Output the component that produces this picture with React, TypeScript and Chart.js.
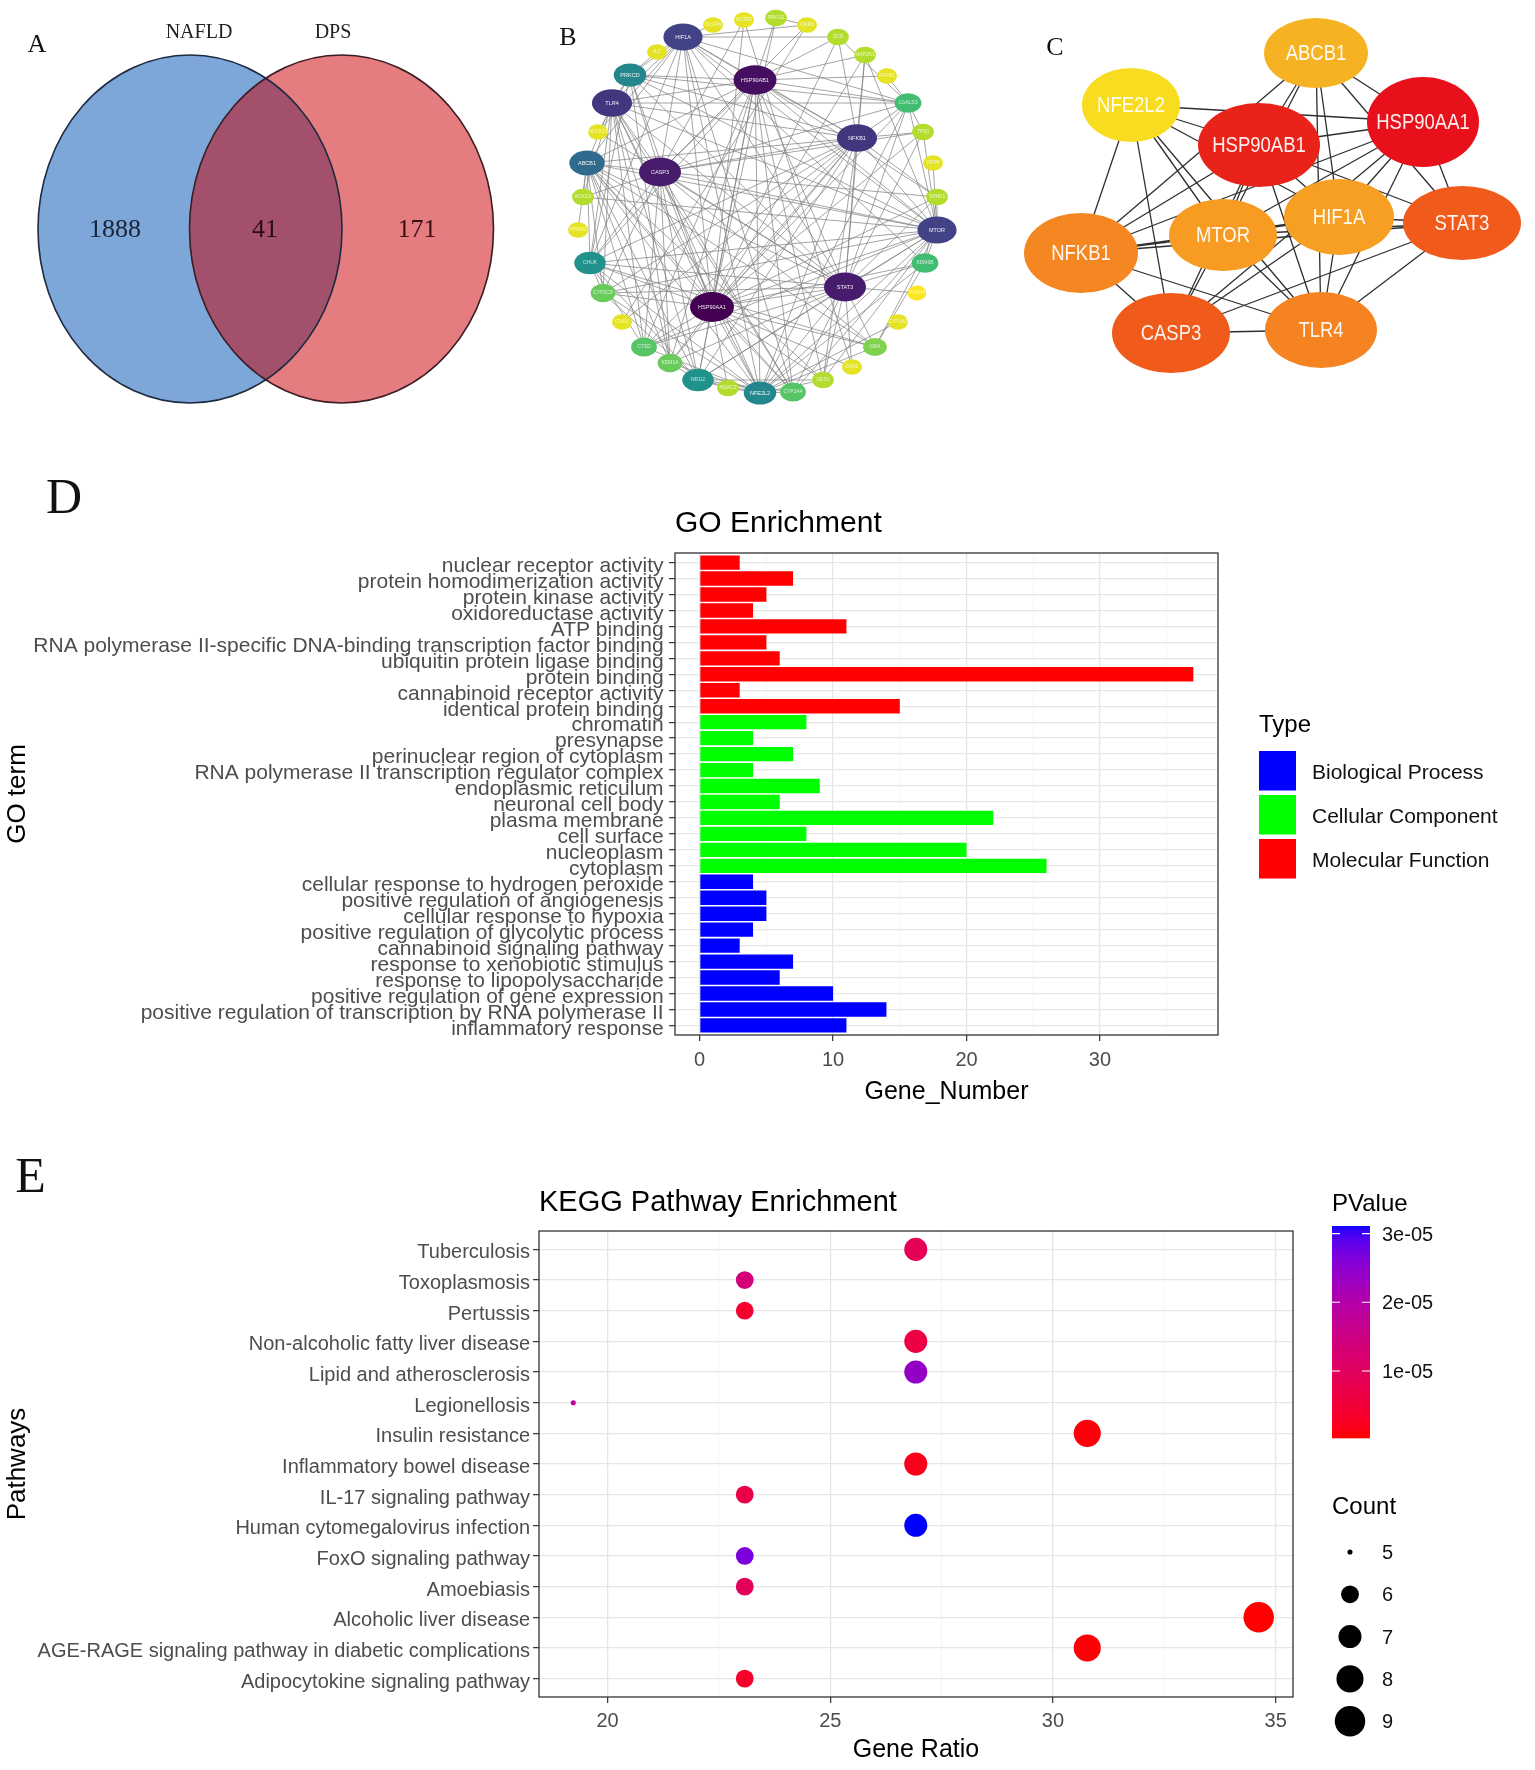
import React, { useEffect, useRef } from 'react';
import { Chart, registerables } from 'chart.js';

Chart.register(...registerables);

const SANS = "'Liberation Sans', Arial, Helvetica, sans-serif";
const SERIF = "'Liberation Serif', 'Times New Roman', Times, serif";
Chart.defaults.font.family = SANS;

/* ============================ DATA ============================ */
// A – Venn diagram
const vennSets = ['NAFLD', 'DPS'];
const vennCounts = [1888, 41, 171]; // NAFLD only, shared, DPS only

// B – PPI network (41 shared targets)
const ppiNodes = [
  'HIF1A', 'CLSPN', 'AGTR1', 'PRKCE', 'CNR1', 'SCD', 'MAP2K1', 'FFAR1', 'LGALS3', 'TP53',
  'DPP4', 'SPHK1', 'MTOR', 'KDM6B', 'NR1H4', 'CYP1A2', 'GBA', 'CAV1', 'CES1', 'CYP3A4',
  'NFE2L2', 'HDAC2', 'NR1I2', 'KDM1A', 'CTSD', 'CNR2', 'CYP2C9', 'CHUK', 'PPARG', 'ACACA',
  'ABCB1', 'ALOX15', 'TLR4', 'PRKCD', 'IL2', 'HSP90AB1', 'NFKB1', 'CASP3', 'STAT3', 'HSP90AA1',
];
const ppiDegree = [
  23, 3, 3, 5, 3, 5, 5, 3, 10, 5,
  3, 5, 23, 10, 2, 3, 7, 3, 5, 9,
  16, 5, 15, 8, 9, 3, 8, 15, 3, 5,
  19, 3, 24, 16, 3, 27, 24, 26, 26, 28,
];
const ppiAdjacency = [
  'HSP90AA1: HIF1A TLR4 PRKCD ABCB1 CHUK CYP2C9 CTSD KDM1A NR1I2 HDAC2 NFE2L2 CYP3A4 CES1 GBA STAT3 MTOR NFKB1 HSP90AB1 CASP3 LGALS3 SPHK1 MAP2K1 PRKCE KDM6B TP53 SCD AGTR1 CAV1',
  'HSP90AB1: HIF1A TLR4 PRKCD ABCB1 CASP3 NFKB1 MTOR STAT3 NFE2L2 CYP3A4 CES1 CTSD LGALS3 MAP2K1 FFAR1 SPHK1 CHUK KDM1A NR1I2 SCD PRKCE',
  'CASP3: HIF1A TLR4 PRKCD ABCB1 ACACA CHUK NFKB1 STAT3 MTOR NFE2L2 NR1I2 KDM1A CTSD CYP2C9 LGALS3 TP53 SPHK1 GBA CYP3A4 AGTR1 CNR1',
  'STAT3: HIF1A TLR4 PRKCD ABCB1 CHUK NFKB1 MTOR NFE2L2 CYP3A4 CES1 GBA KDM6B LGALS3 TP53 SPHK1 MAP2K1 KDM1A CTSD CYP2C9 NR1I2 CAV1 ALOX15 NR1H4',
  'NFKB1: HIF1A TLR4 PRKCD ABCB1 CHUK MTOR NFE2L2 CTSD LGALS3 TP53 MAP2K1 SCD CYP2C9 KDM1A CES1 NR1I2 SPHK1 CNR2',
  'TLR4: HIF1A PRKCD ABCB1 CHUK MTOR NFE2L2 CYP2C9 NR1I2 LGALS3 CTSD KDM1A ACACA CYP3A4',
  'HIF1A: PRKCD ABCB1 MTOR CHUK NFE2L2 CYP3A4 SCD CNR1 LGALS3 KDM6B ALOX15 CLSPN IL2',
  'MTOR: PRKCD ABCB1 CHUK LGALS3 SPHK1 KDM6B GBA CES1 CYP3A4 NFE2L2 NR1I2 CTSD CYP2C9 TP53 ACACA MAP2K1 DPP4',
  'ABCB1: ACACA CHUK CYP2C9 CTSD KDM1A NR1I2 NFE2L2 CYP3A4 PPARG CES1 GBA',
  'PRKCD: CHUK ALOX15 KDM1A LGALS3 IL2',
  'CHUK: CYP2C9 CTSD NR1I2 NFE2L2 GBA',
  'NFE2L2: CYP3A4 CES1 GBA KDM1A CTSD CYP2C9 NR1I2 LGALS3 KDM6B HDAC2 CYP1A2',
  'NR1I2: CYP3A4 CES1 CYP2C9 KDM1A HDAC2',
  'LGALS3: TP53 FFAR1 SCD',
  'KDM6B: SPHK1 GBA',
  'CNR1: CNR2 PRKCE',
  'AGTR1: CAV1',
];

// C – top 10 hub genes
const hubGenes = ['ABCB1', 'NFE2L2', 'HSP90AB1', 'HSP90AA1', 'NFKB1', 'MTOR', 'HIF1A', 'STAT3', 'CASP3', 'TLR4'];
const hubScore = [0.38, 0.1, 0.95, 1.0, 0.6, 0.5, 0.48, 0.8, 0.8, 0.62];
const hubLinks = [
  'ABCB1-HSP90AB1', 'ABCB1-HSP90AA1', 'ABCB1-MTOR', 'ABCB1-HIF1A', 'ABCB1-TLR4', 'ABCB1-NFKB1', 'ABCB1-STAT3',
  'NFE2L2-HSP90AB1', 'NFE2L2-HSP90AA1', 'NFE2L2-NFKB1', 'NFE2L2-MTOR', 'NFE2L2-HIF1A', 'NFE2L2-CASP3', 'NFE2L2-TLR4',
  'HSP90AB1-HSP90AA1', 'HSP90AB1-NFKB1', 'HSP90AB1-MTOR', 'HSP90AB1-HIF1A', 'HSP90AB1-STAT3', 'HSP90AB1-CASP3', 'HSP90AB1-TLR4',
  'HSP90AA1-NFKB1', 'HSP90AA1-MTOR', 'HSP90AA1-HIF1A', 'HSP90AA1-STAT3', 'HSP90AA1-CASP3', 'HSP90AA1-TLR4',
  'NFKB1-MTOR', 'NFKB1-HIF1A', 'NFKB1-STAT3', 'NFKB1-CASP3', 'NFKB1-TLR4',
  'MTOR-HIF1A', 'MTOR-STAT3', 'MTOR-CASP3', 'MTOR-TLR4',
  'HIF1A-STAT3', 'HIF1A-CASP3', 'HIF1A-TLR4',
  'STAT3-CASP3', 'STAT3-TLR4', 'CASP3-TLR4',
];

// D – GO enrichment
const goTerms = [
  'nuclear receptor activity',
  'protein homodimerization activity',
  'protein kinase activity',
  'oxidoreductase activity',
  'ATP binding',
  'RNA polymerase II-specific DNA-binding transcription factor binding',
  'ubiquitin protein ligase binding',
  'protein binding',
  'cannabinoid receptor activity',
  'identical protein binding',
  'chromatin',
  'presynapse',
  'perinuclear region of cytoplasm',
  'RNA polymerase II transcription regulator complex',
  'endoplasmic reticulum',
  'neuronal cell body',
  'plasma membrane',
  'cell surface',
  'nucleoplasm',
  'cytoplasm',
  'cellular response to hydrogen peroxide',
  'positive regulation of angiogenesis',
  'cellular response to hypoxia',
  'positive regulation of glycolytic process',
  'cannabinoid signaling pathway',
  'response to xenobiotic stimulus',
  'response to lipopolysaccharide',
  'positive regulation of gene expression',
  'positive regulation of transcription by RNA polymerase II',
  'inflammatory response',
];
const goCounts = [3, 7, 5, 4, 11, 5, 6, 37, 3, 15, 8, 4, 7, 4, 9, 6, 22, 8, 20, 26, 4, 5, 5, 4, 3, 7, 6, 10, 14, 11];
const MF = 'Molecular Function';
const CC = 'Cellular Component';
const BP = 'Biological Process';
const goTypes = [
  MF, MF, MF, MF, MF, MF, MF, MF, MF, MF,
  CC, CC, CC, CC, CC, CC, CC, CC, CC, CC,
  BP, BP, BP, BP, BP, BP, BP, BP, BP, BP,
];
const goTypeOrder = [BP, CC, MF];
const goAxisTicks = [0, 10, 20, 30];

// E – KEGG enrichment
const keggPathways = [
  'Tuberculosis',
  'Toxoplasmosis',
  'Pertussis',
  'Non-alcoholic fatty liver disease',
  'Lipid and atherosclerosis',
  'Legionellosis',
  'Insulin resistance',
  'Inflammatory bowel disease',
  'IL-17 signaling pathway',
  'Human cytomegalovirus infection',
  'FoxO signaling pathway',
  'Amoebiasis',
  'Alcoholic liver disease',
  'AGE-RAGE signaling pathway in diabetic complications',
  'Adipocytokine signaling pathway',
];
const keggGeneRatio = [26.92, 23.08, 23.08, 26.92, 26.92, 19.23, 30.77, 26.92, 23.08, 26.92, 23.08, 23.08, 34.62, 30.77, 23.08];
const keggCount = [7, 6, 6, 7, 7, 5, 8, 7, 6, 7, 6, 6, 9, 8, 6];
const keggPValue = [8.9e-6, 1.35e-5, 4.0e-6, 6.5e-6, 2.4e-5, 1.75e-5, 9e-7, 1.9e-6, 7e-6, 3.11e-5, 2.65e-5, 9.6e-6, 3.2e-7, 6e-7, 3.4e-6];
const keggRatioTicks = [20, 25, 30, 35];
const pValueTicks = [1e-5, 2e-5, 3e-5];
const countLegend = [5, 6, 7, 8, 9];

/* ====================== LAYOUT / STYLE ====================== */
const VENN = {
  cx: [190, 341.5], cy: 229, rx: 152, ry: 174,
  fill: ['#7DA7D9', '#E57C7F', '#A2506B'],
  stroke: ['#1D2A40', '#3B1D24'],
  textX: [115, 265, 417], textY: 230,
  textColor: ['#1B2436', '#2B0A12', '#3A0E12'],
  titleX: [199, 333], titleY: 33,
};
const ppiLayoutX = [
  163, 193, 224, 256, 287, 318, 345, 367, 388, 403,
  413, 417, 417, 405, 397, 378, 355, 332, 303, 273,
  240, 208, 178, 150, 124, 102, 83, 70, 58, 63,
  67, 78, 92, 110, 137, 235, 337, 140, 325, 192,
];
const ppiLayoutY = [
  37, 25, 20, 18, 25, 37, 55, 76, 103, 132,
  163, 197, 230, 263, 293, 322, 347, 367, 380, 392,
  393, 388, 380, 363, 347, 322, 293, 263, 230, 197,
  163, 132, 103, 75, 52, 80, 138, 172, 287, 307,
];
const hubLayoutX = [316, 131, 259, 423, 81, 223, 339, 462, 171, 321];
const hubLayoutY = [53, 105, 145, 122, 253, 235, 217, 223, 333, 330];
const hubRx = [52, 49, 61, 56, 57, 54, 55, 59, 59, 56];
const hubRy = [35, 37, 42, 45, 40, 36, 38, 37, 40, 38];

const GO_COLORS: Record<string, string> = { [BP]: '#0000FF', [CC]: '#00FF00', [MF]: '#FF0000' };
const GRID_MAJOR = '#E6E6E6';
const GRID_MINOR = '#F0F0F0';
const AXIS_TEXT = '#4D4D4D';

/* ========================= HELPERS ========================= */
function hexToRgb(h: string): number[] {
  const n = parseInt(h.slice(1), 16);
  return [(n >> 16) & 255, (n >> 8) & 255, n & 255];
}
function ramp(stops: [number, string][], t: number): string {
  const tt = Math.max(0, Math.min(1, t));
  let k = 0;
  while (k < stops.length - 2 && tt > stops[k + 1][0]) k++;
  const [p0, c0] = stops[k];
  const [p1, c1] = stops[k + 1];
  const f = p1 === p0 ? 0 : (tt - p0) / (p1 - p0);
  const a = hexToRgb(c0), b = hexToRgb(c1);
  const c = a.map((v, i) => Math.round(v + (b[i] - v) * f));
  return `rgb(${c[0]},${c[1]},${c[2]})`;
}
const VIRIDIS: [number, string][] = [
  '#440154', '#482475', '#414487', '#355F8D', '#2A788E', '#21918C', '#22A884', '#44BF70', '#7AD151', '#BDDF26', '#FDE725',
].map((c, i) => [i / 10, c] as [number, string]);
const HUB_RAMP: [number, string][] = [
  [0, '#E8101A'], [0.2, '#F05A1B'], [0.4, '#F58723'], [0.5, '#F79B22'], [0.62, '#F5B223'], [0.9, '#F8DC20'], [1, '#F9E31E'],
];

function lin(c: number) { c /= 255; return c <= 0.04045 ? c / 12.92 : Math.pow((c + 0.055) / 1.055, 2.4); }
function gam(c: number) {
  const v = c <= 0.0031308 ? 12.92 * c : 1.055 * Math.pow(Math.max(c, 0), 1 / 2.4) - 0.055;
  return Math.round(Math.max(0, Math.min(1, v)) * 255);
}
function rgb2lab(rgb: number[]) {
  const R = lin(rgb[0]), G = lin(rgb[1]), B = lin(rgb[2]);
  const X = (0.4124 * R + 0.3576 * G + 0.1805 * B) / 0.95047;
  const Y = 0.2126 * R + 0.7152 * G + 0.0722 * B;
  const Z = (0.0193 * R + 0.1192 * G + 0.9505 * B) / 1.08883;
  const f = (t: number) => (t > 0.008856 ? Math.cbrt(t) : 7.787 * t + 16 / 116);
  const fx = f(X), fy = f(Y), fz = f(Z);
  return [116 * fy - 16, 500 * (fx - fy), 200 * (fy - fz)];
}
function lab2rgb(lab: number[]) {
  const fy = (lab[0] + 16) / 116, fx = fy + lab[1] / 500, fz = fy - lab[2] / 200;
  const fi = (t: number) => (t * t * t > 0.008856 ? t * t * t : (t - 16 / 116) / 7.787);
  const X = fi(fx) * 0.95047, Y = fi(fy), Z = fi(fz) * 1.08883;
  const R = 3.2406 * X - 1.5372 * Y - 0.4986 * Z;
  const G = -0.9689 * X + 1.8758 * Y + 0.0415 * Z;
  const B = 0.0557 * X - 0.204 * Y + 1.057 * Z;
  return `rgb(${gam(R)},${gam(G)},${gam(B)})`;
}
const LAB_LOW = rgb2lab([255, 0, 0]);
const LAB_HIGH = rgb2lab([0, 0, 255]);
function gradRedBlue(t: number) {
  const tt = Math.max(0, Math.min(1, t));
  return lab2rgb(LAB_LOW.map((v, i) => v + (LAB_HIGH[i] - v) * tt));
}
const P_MIN = Math.min(...keggPValue);
const P_MAX = Math.max(...keggPValue);
function pColor(p: number) { return gradRedBlue((p - P_MIN) / (P_MAX - P_MIN)); }
const C_MIN = Math.min(...keggCount);
const C_MAX = Math.max(...keggCount);
function sizeR(c: number) { return 2.54 * (1 + 5 * Math.sqrt((c - C_MIN) / (C_MAX - C_MIN))); }
function fmtSci(v: number) {
  const [m, e] = v.toExponential(0).split('e');
  const ex = parseInt(e, 10);
  return `${m}e${ex < 0 ? '-' : '+'}${String(Math.abs(ex)).padStart(2, '0')}`;
}

const ppiEdges: [string, string][] = [];
ppiAdjacency.forEach((line) => {
  const [hub, rest] = line.split(':');
  const h = hub.trim();
  rest.trim().split(/\s+/).forEach((n) => {
    if (!ppiEdges.some(([a, b]) => (a === h && b === n) || (a === n && b === h))) ppiEdges.push([h, n]);
  });
});
const hubEdges = hubLinks.map((s) => s.split('-') as [string, string]);

/* ========================= PLUGINS ========================= */
const letter = (ch: string, x: number, y: number, size: number) => ({
  id: 'panelLetter',
  afterDraw(chart: any) {
    const ctx = chart.ctx;
    ctx.save();
    ctx.font = `${size}px ${SERIF}`;
    ctx.fillStyle = '#111';
    ctx.textAlign = 'center';
    ctx.textBaseline = 'middle';
    ctx.fillText(ch, x, y);
    ctx.restore();
  },
});

const panelBorder = {
  id: 'panelBorder',
  afterDatasetsDraw(chart: any) {
    const { ctx, chartArea: a } = chart;
    ctx.save();
    ctx.strokeStyle = '#333333';
    ctx.lineWidth = 1.3;
    ctx.strokeRect(a.left, a.top, a.right - a.left, a.bottom - a.top);
    ctx.restore();
  },
};

const vennPlugin = {
  id: 'venn',
  afterDatasetsDraw(chart: any) {
    const { ctx } = chart;
    const { x, y } = chart.scales;
    const meta = chart.getDatasetMeta(0);
    const rx = x.getPixelForValue(VENN.rx) - x.getPixelForValue(0);
    const ry = Math.abs(y.getPixelForValue(VENN.ry) - y.getPixelForValue(0));
    const path = (i: number) => {
      ctx.beginPath();
      ctx.ellipse(meta.data[i].x, meta.data[i].y, rx, ry, 0, 0, Math.PI * 2);
    };
    ctx.save();
    path(0); ctx.fillStyle = VENN.fill[0]; ctx.fill();
    path(1); ctx.fillStyle = VENN.fill[1]; ctx.fill();
    ctx.save(); path(0); ctx.clip(); path(1); ctx.fillStyle = VENN.fill[2]; ctx.fill(); ctx.restore();
    ctx.lineWidth = 1.6;
    path(0); ctx.strokeStyle = VENN.stroke[0]; ctx.stroke();
    path(1); ctx.strokeStyle = VENN.stroke[1]; ctx.stroke();
    ctx.textAlign = 'center';
    ctx.textBaseline = 'middle';
    ctx.font = `26px ${SERIF}`;
    vennCounts.forEach((c, i) => {
      ctx.fillStyle = VENN.textColor[i];
      ctx.fillText(String(c), x.getPixelForValue(VENN.textX[i]), y.getPixelForValue(VENN.textY));
    });
    ctx.font = `20px ${SERIF}`;
    ctx.fillStyle = '#222';
    vennSets.forEach((s, i) => ctx.fillText(s, x.getPixelForValue(VENN.titleX[i]), y.getPixelForValue(VENN.titleY)));
    ctx.restore();
  },
};

const ppiPlugin = {
  id: 'ppi',
  beforeDatasetsDraw(chart: any) {
    const ctx = chart.ctx;
    const meta = chart.getDatasetMeta(0);
    ctx.save();
    ctx.strokeStyle = 'rgba(128,128,128,0.8)';
    ctx.lineWidth = 0.9;
    ppiEdges.forEach(([a, b]) => {
      const i = ppiNodes.indexOf(a), j = ppiNodes.indexOf(b);
      if (i < 0 || j < 0) return;
      const p = meta.data[i], q = meta.data[j];
      ctx.beginPath(); ctx.moveTo(p.x, p.y); ctx.lineTo(q.x, q.y); ctx.stroke();
    });
    ctx.restore();
  },
  afterDatasetsDraw(chart: any) {
    const ctx = chart.ctx;
    const meta = chart.getDatasetMeta(0);
    const { x, y } = chart.scales;
    const ux = x.getPixelForValue(1) - x.getPixelForValue(0);
    const uy = Math.abs(y.getPixelForValue(1) - y.getPixelForValue(0));
    const dMin = Math.min(...ppiDegree), dMax = Math.max(...ppiDegree);
    ctx.save();
    ppiNodes.forEach((name, i) => {
      const t = (ppiDegree[i] - dMin) / (dMax - dMin);
      const rx = (9.5 + 12.5 * t) * ux;
      const ry = (7.5 + 7.5 * t) * uy;
      const p = meta.data[i];
      ctx.beginPath();
      ctx.ellipse(p.x, p.y, rx, ry, 0, 0, Math.PI * 2);
      ctx.fillStyle = ramp(VIRIDIS, 1 - t);
      ctx.fill();
      ctx.fillStyle = t > 0.5 ? 'rgba(255,255,255,0.92)' : 'rgba(255,255,255,0.75)';
      ctx.font = `${t > 0.5 ? 5.5 : 5}px ${SANS}`;
      ctx.textAlign = 'center';
      ctx.textBaseline = 'middle';
      ctx.fillText(name, p.x, p.y);
    });
    ctx.restore();
  },
};

const hubPlugin = {
  id: 'hub',
  beforeDatasetsDraw(chart: any) {
    const ctx = chart.ctx;
    const meta = chart.getDatasetMeta(0);
    ctx.save();
    ctx.strokeStyle = '#2E2E2E';
    ctx.lineWidth = 1.3;
    hubEdges.forEach(([a, b]) => {
      const i = hubGenes.indexOf(a), j = hubGenes.indexOf(b);
      if (i < 0 || j < 0) return;
      const p = meta.data[i], q = meta.data[j];
      ctx.beginPath(); ctx.moveTo(p.x, p.y); ctx.lineTo(q.x, q.y); ctx.stroke();
    });
    ctx.restore();
  },
  afterDatasetsDraw(chart: any) {
    const ctx = chart.ctx;
    const meta = chart.getDatasetMeta(0);
    const { x, y } = chart.scales;
    const ux = x.getPixelForValue(1) - x.getPixelForValue(0);
    const uy = Math.abs(y.getPixelForValue(1) - y.getPixelForValue(0));
    ctx.save();
    hubGenes.forEach((name, i) => {
      const p = meta.data[i];
      ctx.beginPath();
      ctx.ellipse(p.x, p.y, hubRx[i] * ux, hubRy[i] * uy, 0, 0, Math.PI * 2);
      ctx.fillStyle = ramp(HUB_RAMP, 1 - hubScore[i]);
      ctx.fill();
      ctx.save();
      ctx.translate(p.x, p.y);
      ctx.scale(1, 1.2);
      ctx.fillStyle = 'rgba(255,255,255,0.93)';
      ctx.font = `18.5px ${SANS}`;
      ctx.textAlign = 'center';
      ctx.textBaseline = 'middle';
      ctx.fillText(name, 0, 1);
      ctx.restore();
    });
    ctx.restore();
  },
};

const goLegend = {
  id: 'goLegend',
  afterDraw(chart: any) {
    const ctx = chart.ctx;
    ctx.save();
    ctx.textAlign = 'left';
    ctx.textBaseline = 'middle';
    ctx.fillStyle = '#000';
    ctx.font = `24px ${SANS}`;
    ctx.fillText('Type', 1259, 285);
    goTypeOrder.forEach((n, i) => {
      const y0 = 311 + i * 44;
      ctx.fillStyle = GO_COLORS[n];
      ctx.fillRect(1259, y0, 37, 39.5);
      ctx.fillStyle = '#111';
      ctx.font = `21px ${SANS}`;
      ctx.fillText(n, 1312, y0 + 22);
    });
    ctx.restore();
  },
};

const keggLegend = {
  id: 'keggLegend',
  afterDraw(chart: any) {
    const ctx = chart.ctx;
    const x0 = 1332, x1 = 1370, yT = 76, yB = 287.5;
    ctx.save();
    ctx.textAlign = 'left';
    ctx.textBaseline = 'middle';
    ctx.fillStyle = '#000';
    ctx.font = `24px ${SANS}`;
    ctx.fillText('PValue', 1332, 54);
    for (let yy = yT; yy < yB; yy += 1) {
      const t = (yB - (yy + 0.5)) / (yB - yT);
      ctx.fillStyle = gradRedBlue(t);
      ctx.fillRect(x0, yy, x1 - x0, 1.3);
    }
    ctx.strokeStyle = '#FFFFFF';
    ctx.lineWidth = 1.2;
    ctx.font = `20px ${SANS}`;
    pValueTicks.forEach((v) => {
      const t = (v - P_MIN) / (P_MAX - P_MIN);
      const yy = yB - t * (yB - yT);
      ctx.beginPath();
      ctx.moveTo(x0, yy); ctx.lineTo(x0 + 8, yy);
      ctx.moveTo(x1 - 8, yy); ctx.lineTo(x1, yy);
      ctx.stroke();
      ctx.fillStyle = '#111';
      ctx.fillText(fmtSci(v), 1382, yy + 1.5);
    });
    ctx.fillStyle = '#000';
    ctx.font = `24px ${SANS}`;
    ctx.fillText('Count', 1332, 357);
    countLegend.forEach((c, k) => {
      const yy = 402 + k * 42.3;
      ctx.fillStyle = '#000';
      ctx.beginPath();
      ctx.arc(1350, yy, sizeR(c), 0, Math.PI * 2);
      ctx.fill();
      ctx.fillStyle = '#111';
      ctx.font = `20px ${SANS}`;
      ctx.fillText(String(c), 1382, yy + 1.5);
    });
    ctx.restore();
  },
};

/* ========================= CONFIGS ========================= */
function hiddenScatter(w: number, h: number, points: { x: number; y: number }[], plugins: any[]) {
  return {
    type: 'scatter',
    data: { datasets: [{ data: points, pointRadius: 0, pointHoverRadius: 0, showLine: false }] },
    options: {
      animation: false,
      responsive: false,
      events: [],
      layout: { padding: 0 },
      plugins: { legend: { display: false }, tooltip: { enabled: false } },
      scales: {
        x: { type: 'linear', min: 0, max: w, display: false },
        y: { type: 'linear', min: 0, max: h, reverse: true, display: false },
      },
    },
    plugins,
  };
}

const makeVenn = () =>
  hiddenScatter(520, 420, VENN.cx.map((cx) => ({ x: cx, y: VENN.cy })), [vennPlugin, letter('A', 37, 45, 26)]);

const makePpi = () =>
  hiddenScatter(480, 420, ppiNodes.map((_, i) => ({ x: ppiLayoutX[i], y: ppiLayoutY[i] })), [ppiPlugin, letter('B', 48, 38, 26)]);

const makeHub = () =>
  hiddenScatter(535, 420, hubGenes.map((_, i) => ({ x: hubLayoutX[i], y: hubLayoutY[i] })), [hubPlugin, letter('C', 55, 48, 26)]);

const isMajorGo = (c: any) => !!c.tick && goAxisTicks.includes(Math.round(c.tick.value * 1000) / 1000);
const isMajorKegg = (c: any) => !!c.tick && keggRatioTicks.includes(Math.round(c.tick.value * 1000) / 1000);

function makeGo() {
  const maxV = Math.max(...goCounts);
  const pad = maxV * 0.05;
  return {
    type: 'bar',
    data: {
      datasets: [{
        data: goCounts.map((v, i) => ({ x: v, y: i })),
        backgroundColor: goTypes.map((t) => GO_COLORS[t]),
        borderWidth: 0,
        barPercentage: 1,
        categoryPercentage: 0.9,
      }],
    },
    options: {
      indexAxis: 'y',
      animation: false,
      responsive: false,
      events: [],
      layout: { padding: { left: 0, right: 317, top: 0, bottom: 0 } },
      plugins: {
        legend: { display: false },
        tooltip: { enabled: false },
        title: {
          display: true, text: 'GO Enrichment', align: 'start', fullSize: false, color: '#000',
          font: { size: 30, weight: 'normal' }, padding: { top: 66, bottom: 11 },
        },
      },
      scales: {
        x: {
          type: 'linear', position: 'bottom', min: -pad, max: maxV + pad,
          afterFit: (s: any) => { s.height = 85; },
          border: { display: false },
          grid: {
            color: (c: any) => (isMajorGo(c) ? GRID_MAJOR : GRID_MINOR),
            lineWidth: (c: any) => (isMajorGo(c) ? 1.3 : 0.7),
            tickColor: (c: any) => (isMajorGo(c) ? '#333333' : 'rgba(0,0,0,0)'),
            tickLength: 6, tickWidth: 1.2,
          },
          ticks: {
            stepSize: 5, includeBounds: false, autoSkip: false, maxRotation: 0, minRotation: 0, padding: 7.5,
            color: AXIS_TEXT, font: { size: 20 },
            callback: (v: number) => (goAxisTicks.includes(v) ? String(v) : ''),
          },
          title: { display: true, text: 'Gene_Number', color: '#000', font: { size: 25 }, padding: { top: 0, bottom: 13 } },
        },
        y: {
          type: 'linear', position: 'left', min: -0.6, max: goTerms.length - 0.4, reverse: true, offset: false,
          afterFit: (s: any) => { s.width = 675; },
          border: { display: false },
          grid: { offset: false, color: GRID_MAJOR, lineWidth: 1.3, tickColor: '#333333', tickLength: 6, tickWidth: 1.2 },
          ticks: {
            stepSize: 1, includeBounds: false, autoSkip: false, padding: 5.4, labelOffset: 3.5,
            color: AXIS_TEXT, font: { size: 21 },
            callback: (v: number) => goTerms[v] ?? '',
          },
          title: { display: true, text: 'GO term', color: '#000', font: { size: 26 }, padding: { top: 2, bottom: 0 } },
        },
      },
    },
    plugins: [panelBorder, goLegend, letter('D', 64, 60, 50)],
  };
}

function makeKegg() {
  const rMin = Math.min(...keggGeneRatio), rMax = Math.max(...keggGeneRatio);
  const pad = (rMax - rMin) * 0.05;
  return {
    type: 'bubble',
    data: {
      datasets: [{
        data: keggPathways.map((_, i) => ({ x: keggGeneRatio[i], y: i, r: sizeR(keggCount[i]) })),
        backgroundColor: keggPValue.map((p) => pColor(p)),
        borderWidth: 0,
        hoverBorderWidth: 0,
      }],
    },
    options: {
      animation: false,
      responsive: false,
      events: [],
      layout: { padding: { left: 0, right: 242, top: 0, bottom: 0 } },
      plugins: {
        legend: { display: false },
        tooltip: { enabled: false },
        title: {
          display: true, text: 'KEGG Pathway Enrichment', align: 'start', fullSize: false, color: '#000',
          font: { size: 29, weight: 'normal' }, padding: { top: 35.6, bottom: 10.6 },
        },
      },
      scales: {
        x: {
          type: 'linear', position: 'bottom', min: rMin - pad, max: rMax + pad,
          afterFit: (s: any) => { s.height = 73; },
          border: { display: false },
          grid: {
            color: (c: any) => (isMajorKegg(c) ? GRID_MAJOR : GRID_MINOR),
            lineWidth: (c: any) => (isMajorKegg(c) ? 1.3 : 0.7),
            tickColor: (c: any) => (isMajorKegg(c) ? '#333333' : 'rgba(0,0,0,0)'),
            tickLength: 6, tickWidth: 1.2,
          },
          ticks: {
            stepSize: 2.5, includeBounds: false, autoSkip: false, maxRotation: 0, minRotation: 0, padding: 6,
            color: AXIS_TEXT, font: { size: 20 },
            callback: (v: number) => (keggRatioTicks.includes(v) ? String(v) : ''),
          },
          title: { display: true, text: 'Gene Ratio', color: '#000', font: { size: 25 }, padding: { top: 0, bottom: 5 } },
        },
        y: {
          type: 'linear', position: 'left', min: -0.6, max: keggPathways.length - 0.4, reverse: true, offset: false,
          afterFit: (s: any) => { s.width = 539; },
          border: { display: false },
          grid: { offset: false, color: GRID_MAJOR, lineWidth: 1.3, tickColor: '#333333', tickLength: 6, tickWidth: 1.2 },
          ticks: {
            stepSize: 1, includeBounds: false, autoSkip: false, padding: 3, labelOffset: 3.5,
            color: AXIS_TEXT, font: { size: 20 },
            callback: (v: number) => keggPathways[v] ?? '',
          },
          title: { display: true, text: 'Pathways', color: '#000', font: { size: 26 }, padding: { top: 2, bottom: 0 } },
        },
      },
    },
    plugins: [panelBorder, keggLegend, letter('E', 30.5, 29, 50)],
  };
}

/* ========================= COMPONENTS ========================= */
function ChartBox({ left, top, width, height, make }: { left: number; top: number; width: number; height: number; make: () => any }) {
  const ref = useRef<HTMLCanvasElement | null>(null);
  useEffect(() => {
    if (!ref.current) return;
    const chart = new Chart(ref.current, make());
    return () => chart.destroy();
  }, [make]);
  return (
    <div style={{ position: 'absolute', left, top, width, height }}>
      <canvas ref={ref} width={width} height={height} style={{ display: 'block', width, height }} />
    </div>
  );
}

export default function App() {
  return (
    <div style={{ position: 'absolute', left: 0, top: 0, width: 1535, height: 1770, background: '#FFFFFF', overflow: 'hidden' }}>
      <ChartBox left={0} top={0} width={520} height={420} make={makeVenn} />
      <ChartBox left={520} top={0} width={480} height={420} make={makePpi} />
      <ChartBox left={1000} top={0} width={535} height={420} make={makeHub} />
      <ChartBox left={0} top={440} width={1535} height={680} make={makeGo} />
      <ChartBox left={0} top={1150} width={1535} height={620} make={makeKegg} />
    </div>
  );
}
